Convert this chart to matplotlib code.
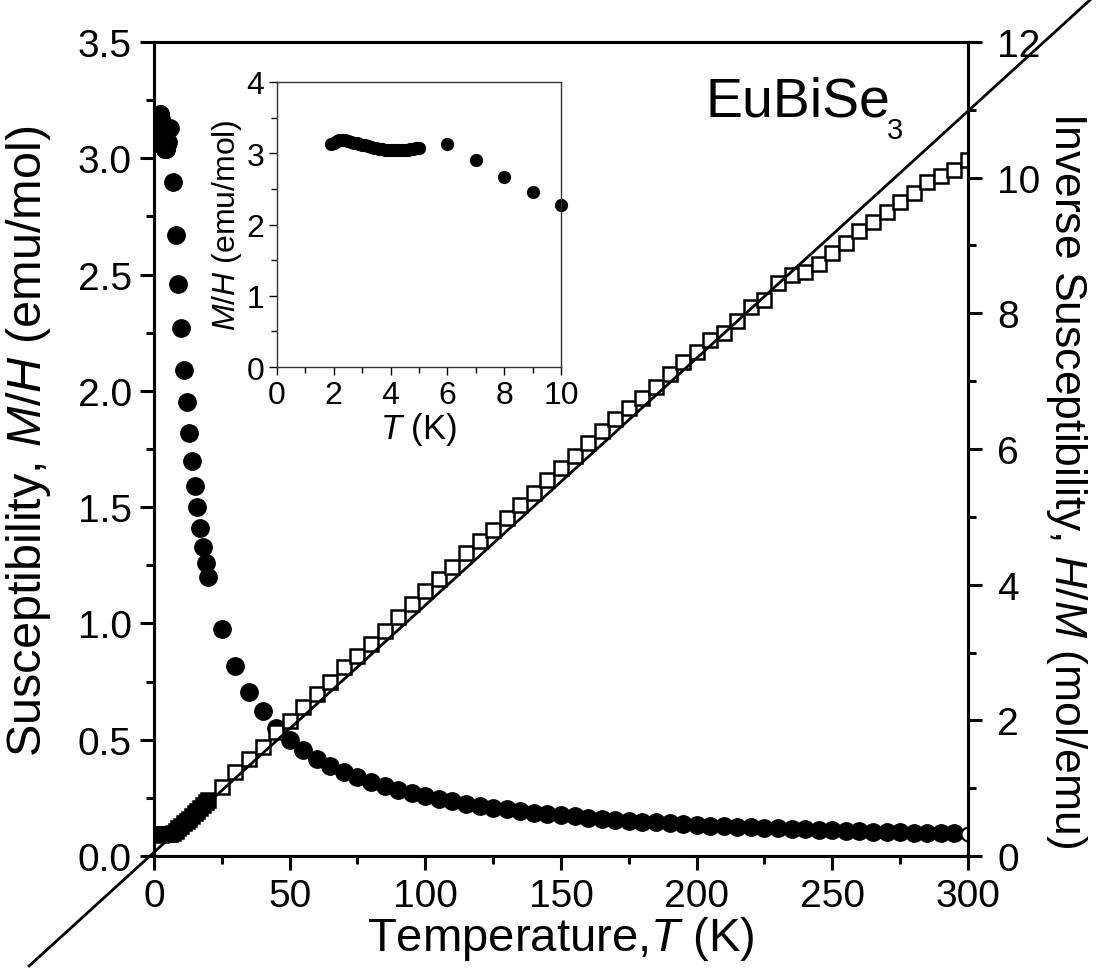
import numpy as np
import matplotlib
matplotlib.use("Agg")
import matplotlib.pyplot as plt
from matplotlib.ticker import MultipleLocator

plt.rcParams['font.family'] = ['Liberation Sans', 'DejaVu Sans']
plt.rcParams['mathtext.fontset'] = 'custom'
plt.rcParams['mathtext.rm'] = 'Liberation Sans'
plt.rcParams['mathtext.it'] = 'Liberation Sans:italic'

# ---- data: susceptibility M/H (emu/mol) ----
T_low = [1.9, 2.0, 2.1, 2.2, 2.3, 2.4, 2.5, 2.6, 2.7, 2.8, 2.9, 3.0, 3.1, 3.2, 3.3,
         3.4, 3.5, 3.6, 3.7, 3.8, 3.9, 4.0, 4.1, 4.2, 4.3, 4.4, 4.5, 4.6, 4.7, 4.8,
         4.9, 5.0, 6, 7, 8, 9, 10, 11, 12, 13, 14, 15, 16, 17, 18, 19, 20]
chi_low = [3.13, 3.14, 3.17, 3.19, 3.19, 3.18, 3.17, 3.16, 3.15, 3.14, 3.13, 3.12, 3.11,
           3.10, 3.09, 3.08, 3.07, 3.06, 3.06, 3.05, 3.05, 3.04, 3.04, 3.04, 3.04, 3.04,
           3.05, 3.05, 3.06, 3.06, 3.07, 3.07, 3.13, 2.90, 2.67, 2.46, 2.27, 2.09, 1.95,
           1.82, 1.70, 1.59, 1.50, 1.41, 1.33, 1.26, 1.20]

T_high = [25, 30, 35, 40, 45, 50, 55, 60, 65, 70, 75, 80, 85, 90, 95, 100, 105, 110,
          115, 120, 125, 130, 135, 140, 145, 150, 155, 160, 165, 170, 175, 180, 185,
          190, 195, 200, 205, 210, 215, 220, 225, 230, 235, 240, 245, 250, 255, 260,
          265, 270, 275, 280, 285, 290, 295]
chi_high = [0.975, 0.815, 0.705, 0.625, 0.550, 0.497, 0.455, 0.418, 0.388, 0.360, 0.338,
            0.318, 0.300, 0.284, 0.269, 0.256, 0.245, 0.235, 0.225, 0.216, 0.208, 0.201,
            0.194, 0.187, 0.181, 0.175, 0.170, 0.165, 0.160, 0.156, 0.152, 0.148, 0.145,
            0.141, 0.138, 0.135, 0.131, 0.129, 0.126, 0.124, 0.121, 0.119, 0.117, 0.115,
            0.113, 0.111, 0.109, 0.107, 0.105, 0.104, 0.102, 0.101, 0.099, 0.098, 0.097]
T_last = [300]
chi_last = [0.096]

# ---- data: inverse susceptibility H/M (mol/emu) ----
Tinv_low = [2, 2.5, 3, 3.5, 4, 4.5, 5, 6, 7, 8, 9, 10, 11, 12, 13, 14, 15, 16, 17, 18, 19, 20]
inv_low = [0.32, 0.315, 0.32, 0.326, 0.329, 0.328, 0.326, 0.32, 0.345, 0.375, 0.41, 0.44,
           0.48, 0.51, 0.55, 0.59, 0.63, 0.67, 0.71, 0.75, 0.79, 0.83]
Tinv = [25, 30, 35, 40, 45, 50, 55, 60, 65, 70, 75, 80, 85, 90, 95, 100, 105, 110, 115,
        120, 125, 130, 135, 140, 145, 150, 155, 160, 165, 170, 175, 180, 185, 190, 195,
        200, 205, 210, 215, 220, 225, 230, 235, 240, 245, 250, 255, 260, 265, 270, 275,
        280, 285, 290, 295, 300]
inv = [1.02, 1.24, 1.43, 1.61, 1.83, 1.99, 2.20, 2.39, 2.57, 2.79, 2.95, 3.13, 3.31, 3.53,
       3.72, 3.91, 4.09, 4.26, 4.47, 4.64, 4.81, 4.98, 5.18, 5.35, 5.54, 5.72, 5.90, 6.09,
       6.26, 6.44, 6.60, 6.75, 6.92, 7.11, 7.28, 7.43, 7.61, 7.71, 7.89, 8.09, 8.20, 8.45,
       8.57, 8.61, 8.73, 8.89, 9.04, 9.21, 9.34, 9.49, 9.64, 9.77, 9.93, 10.02, 10.11, 10.26]

# Curie-Weiss fit line (drawn beyond the frame)
fit_T = [-46, 345]
fit_val = [-1.62, 12.62]

# inset data
inset_T = T_low[:37]
inset_chi = chi_low[:37]

W, H = 1096, 979
fig = plt.figure(figsize=(10.96, 9.79), dpi=100)
ax = fig.add_axes([0.1405, 0.1246, 0.7427, 0.8315])
ax2 = ax.twinx()

lw = 2.2
for a in (ax, ax2):
    for s in a.spines.values():
        s.set_linewidth(lw)

ax.plot(T_low, chi_low, 'o', color='black', ms=12.5, zorder=3)
ax.plot(T_high, chi_high, 'o', color='black', ms=12.5, zorder=3)
ax.plot(T_last, chi_last, 'o', mfc='white', mec='black', ms=10, mew=1.5, zorder=3)

ax2.plot(Tinv_low, inv_low, 's', mfc='black', mec='black', ms=10, mew=1.8)
ax2.plot(Tinv, inv, 's', mfc='white', mec='black', ms=9.5, mew=1.8)
ax2.plot(fit_T, fit_val, '-', color='black', lw=2.0, clip_on=False)

ax.set_xlim(0, 300)
ax.set_ylim(0, 3.5)
ax2.set_ylim(0, 12)
ax.xaxis.set_major_locator(MultipleLocator(50))
ax.xaxis.set_minor_locator(MultipleLocator(25))
ax.yaxis.set_minor_locator(MultipleLocator(0.25))
ax2.yaxis.set_major_locator(MultipleLocator(2))
ax2.yaxis.set_minor_locator(MultipleLocator(1))
ax.set_yticks(np.arange(0, 3.51, 0.5))
ax.set_yticklabels(['%.1f' % v for v in np.arange(0, 3.51, 0.5)])

for a in (ax, ax2):
    a.tick_params(which='major', direction='out', length=10, width=lw, labelsize=28, pad=6)
    a.tick_params(which='minor', direction='out', length=6, width=lw)
ax.tick_params(axis='x', pad=6)
ax2.tick_params(axis='y', pad=11)

ax.set_xlabel(r'Temperature,$\mathit{T}$ (K)', fontsize=34, labelpad=0)
fig.text(29 / W, 1 - 441 / H, r'Susceptibility, $\mathit{M/H}$ (emu/mol)', fontsize=35,
         rotation=90, ha='center', va='center')
fig.text(1067 / W, 1 - 480 / H, r'Inverse Susceptibility, $\mathit{H/M}$ (mol/emu)',
         fontsize=32, rotation=-90, ha='center', va='center')

fig.text(705 / W, 1 - 117 / H, 'EuBiSe', fontsize=40, ha='left', va='baseline')
fig.text(887 / W, 1 - 139 / H, '3', fontsize=21, ha='left', va='baseline')

# inset
ins = fig.add_axes([277 / W, 1 - 368 / H, 284 / W, 285 / H])
for s in ins.spines.values():
    s.set_linewidth(1.0)
    s.set_color('#333333')
ins.plot(inset_T, inset_chi, 'o', color='black', ms=8.5, clip_on=False)
ins.set_xlim(0, 10)
ins.set_ylim(0, 4)
ins.xaxis.set_major_locator(MultipleLocator(2))
ins.xaxis.set_minor_locator(MultipleLocator(1))
ins.yaxis.set_major_locator(MultipleLocator(1))
ins.yaxis.set_minor_locator(MultipleLocator(0.5))
ins.tick_params(which='major', direction='out', length=6, width=1.0, labelsize=23, pad=3)
ins.tick_params(which='minor', direction='out', length=4, width=1.0)
ins.set_xlabel(r'$\mathit{T}$ (K)', fontsize=25, labelpad=0)
ins.set_ylabel(r'$\mathit{M/H}$ (emu/mol)', fontsize=23, labelpad=2)

fig.savefig('out.png', dpi=100)
